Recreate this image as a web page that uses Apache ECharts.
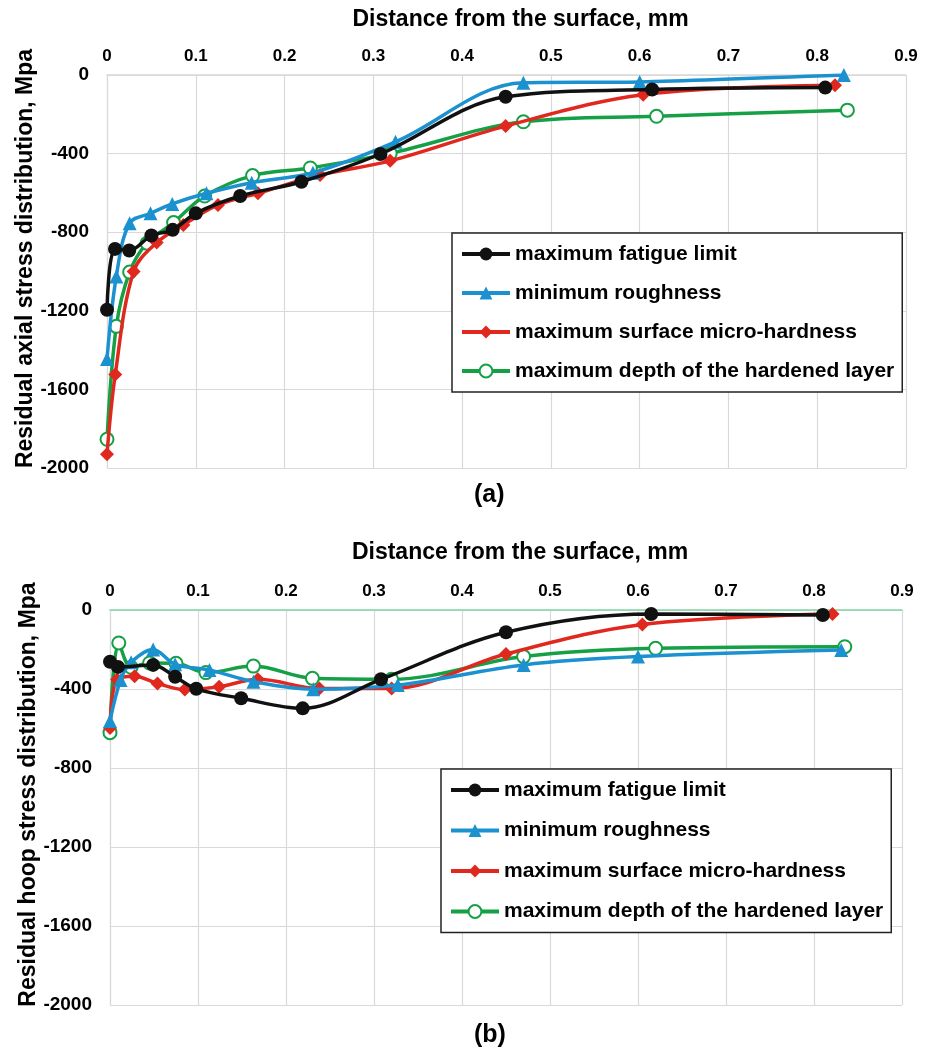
<!DOCTYPE html>
<html>
<head>
<meta charset="utf-8">
<script src="https://cdn.jsdelivr.net/npm/echarts@6/dist/echarts.min.js"></script>
<style>
    html, body { margin: 0; padding: 0; background: #fff; }
    #main { width: 930px; height: 1054px; }
</style>
</head>
<body>
<div id="main"></div>
<script>
    // series names
    var names = ['maximum fatigue limit', 'minimum roughness', 'maximum surface micro-hardness', 'maximum depth of the hardened layer'];
    var xTicks = [0, 0.1, 0.2, 0.3, 0.4, 0.5, 0.6, 0.7, 0.8, 0.9];
    var yTicks = [0, -400, -800, -1200, -1600, -2000];

    // (a) axial stress
    var aFatigueX = [0, 0.009, 0.025, 0.05, 0.074, 0.1, 0.15, 0.219, 0.308, 0.449, 0.614, 0.809];
    var aFatigueY = [-1195, -885, -893, -817, -788, -704, -616, -543, -402, -111, -74, -64];
    var aRoughX = [0, 0.0105, 0.0255, 0.049, 0.0735, 0.112, 0.163, 0.232, 0.325, 0.469, 0.6, 0.83];
    var aRoughY = [-1445, -1025, -754, -704, -656, -602, -548, -497, -340, -40, -35, 0];
    var aHardX = [0, 0.0093, 0.03, 0.056, 0.086, 0.125, 0.17, 0.24, 0.319, 0.449, 0.604, 0.82];
    var aHardY = [-1930, -1524, -1000, -853, -763, -661, -602, -509, -437, -260, -100, -52];
    var aDepthX = [0, 0.0105, 0.0255, 0.045, 0.075, 0.11, 0.164, 0.229, 0.319, 0.469, 0.619, 0.834];
    var aDepthY = [-1854, -1279, -1003, -856, -751, -616, -512, -473, -399, -238, -210, -179];

    // (b) hoop stress
    var bFatigueX = [0, 0.009, 0.049, 0.074, 0.098, 0.149, 0.219, 0.308, 0.45, 0.615, 0.81];
    var bFatigueY = [-262, -288, -278, -338, -399, -447, -498, -351, -113, -20, -25];
    var bRoughX = [0, 0.012, 0.024, 0.049, 0.074, 0.113, 0.163, 0.231, 0.327, 0.47, 0.6, 0.831];
    var bRoughY = [-562, -355, -265, -200, -275, -304, -363, -401, -380, -278, -236, -203];
    var bHardX = [0, 0.008, 0.028, 0.054, 0.085, 0.124, 0.168, 0.238, 0.32, 0.45, 0.605, 0.821];
    var bHardY = [-598, -352, -335, -372, -403, -388, -351, -397, -397, -223, -73, -20];
    var bDepthX = [0, 0.01, 0.024, 0.045, 0.075, 0.109, 0.163, 0.23, 0.32, 0.47, 0.62, 0.835];
    var bDepthY = [-621, -167, -290, -268, -270, -317, -284, -346, -351, -236, -194, -186];

    var colors = ['#111111', '#1b91d0', '#e0281f', '#15a046'];
    var symbols = ['circle', 'triangle', 'diamond', 'emptyCircle'];
    var symbolSizes = [14, 14, 14, 13];
    var font = '"Liberation Sans", Arial, sans-serif';

    function zip(xs, ys) {
        return xs.map(function (x, i) { return [x, ys[i]]; });
    }

    function makeSeries(idx, xs, ys, gridIdx) {
        return {
            name: names[idx],
            type: 'line',
            xAxisIndex: gridIdx,
            yAxisIndex: gridIdx,
            smooth: 0.35,
            symbol: symbols[idx],
            symbolSize: symbolSizes[idx],
            showAllSymbol: true,
            lineStyle: {width: 3.5, color: colors[idx]},
            itemStyle: {color: colors[idx], borderColor: colors[idx], borderWidth: idx == 3 ? 2 : 0},
            z: 10 - idx,
            data: zip(xs, ys)
        };
    }

    function makeX(gridIdx, lineColor, gap) {
        return {
            type: 'value',
            gridIndex: gridIdx,
            position: 'top',
            min: xTicks[0],
            max: xTicks[xTicks.length - 1],
            interval: 0.1,
            name: 'Distance from the surface, mm',
            nameLocation: 'middle',
            nameGap: gap,
            nameMoveOverlap: false,
            nameTextStyle: {fontFamily: font, fontWeight: 'bold', fontSize: 23, color: '#000', padding: [0, 0, 0, 28]},
            axisLine: {show: true, onZero: false, lineStyle: {color: lineColor, width: 1.5}},
            axisTick: {show: false},
            axisLabel: {
                margin: 10, fontFamily: font, fontWeight: 'bold', fontSize: 17, color: '#000',
                formatter: function (v) { return String(+v.toFixed(1)); }
            },
            splitLine: {show: true, lineStyle: {color: '#d9d9d9', width: 1.2}}
        };
    }

    function makeY(gridIdx, title) {
        return {
            type: 'value',
            gridIndex: gridIdx,
            min: yTicks[yTicks.length - 1],
            max: yTicks[0],
            interval: 400,
            name: title,
            nameLocation: 'middle',
            nameGap: 70,
            nameMoveOverlap: false,
            nameTextStyle: {fontFamily: font, fontWeight: 'bold', fontSize: 23, color: '#000', padding: [0, 0, 0, 26]},
            axisLine: {show: true, onZero: false, lineStyle: {color: '#d9d9d9', width: 1.2}},
            axisTick: {show: false},
            axisLabel: {
                margin: 18, fontFamily: font, fontWeight: 'bold', fontSize: 19, color: '#000',
                formatter: function (v) { return String(v); }
            },
            splitLine: {show: true, lineStyle: {color: '#d9d9d9', width: 1.2}}
        };
    }

    function makeLegend(left, top, gap) {
        return {
            orient: 'vertical',
            left: left,
            top: top,
            padding: [10, 8, 10, 8],
            itemWidth: 48,
            itemHeight: 16,
            itemGap: gap,
            borderColor: '#222',
            borderWidth: 1.5,
            borderRadius: 0,
            backgroundColor: '#fff',
            selectedMode: false,
            lineStyle: {width: 4},
            textStyle: {fontFamily: font, fontWeight: 'bold', fontSize: 21, color: '#000', lineHeight: 22},
            data: names
        };
    }

    var myChart = echarts.init(document.getElementById('main'), null, {renderer: 'canvas'});
    var option = {
        animation: false,
        backgroundColor: '#fff',
        color: colors,
        title: [
            {text: '(a)', left: 469, top: 478, textStyle: {fontFamily: font, fontWeight: 'bold', fontSize: 25, color: '#000'}},
            {text: '(b)', left: 469, top: 1018, textStyle: {fontFamily: font, fontWeight: 'bold', fontSize: 25, color: '#000'}}
        ],
        legend: [makeLegend(452, 233, 17), makeLegend(441, 769, 18.5)],
        grid: [
            {left: 107, right: 24, top: 75, height: 393},
            {left: 110, right: 28, top: 610, height: 395}
        ],
        xAxis: [makeX(0, '#d9d9d9', 44), makeX(1, '#84d3a4', 46)],
        yAxis: [
            makeY(0, 'Residual axial stress distribution, Mpa'),
            makeY(1, 'Residual hoop stress distribution, Mpa')
        ],
        series: [
            makeSeries(0, aFatigueX, aFatigueY, 0),
            makeSeries(1, aRoughX, aRoughY, 0),
            makeSeries(2, aHardX, aHardY, 0),
            makeSeries(3, aDepthX, aDepthY, 0),
            makeSeries(0, bFatigueX, bFatigueY, 1),
            makeSeries(1, bRoughX, bRoughY, 1),
            makeSeries(2, bHardX, bHardY, 1),
            makeSeries(3, bDepthX, bDepthY, 1)
        ]
    };
    myChart.setOption(option);
</script>
</body>
</html>
